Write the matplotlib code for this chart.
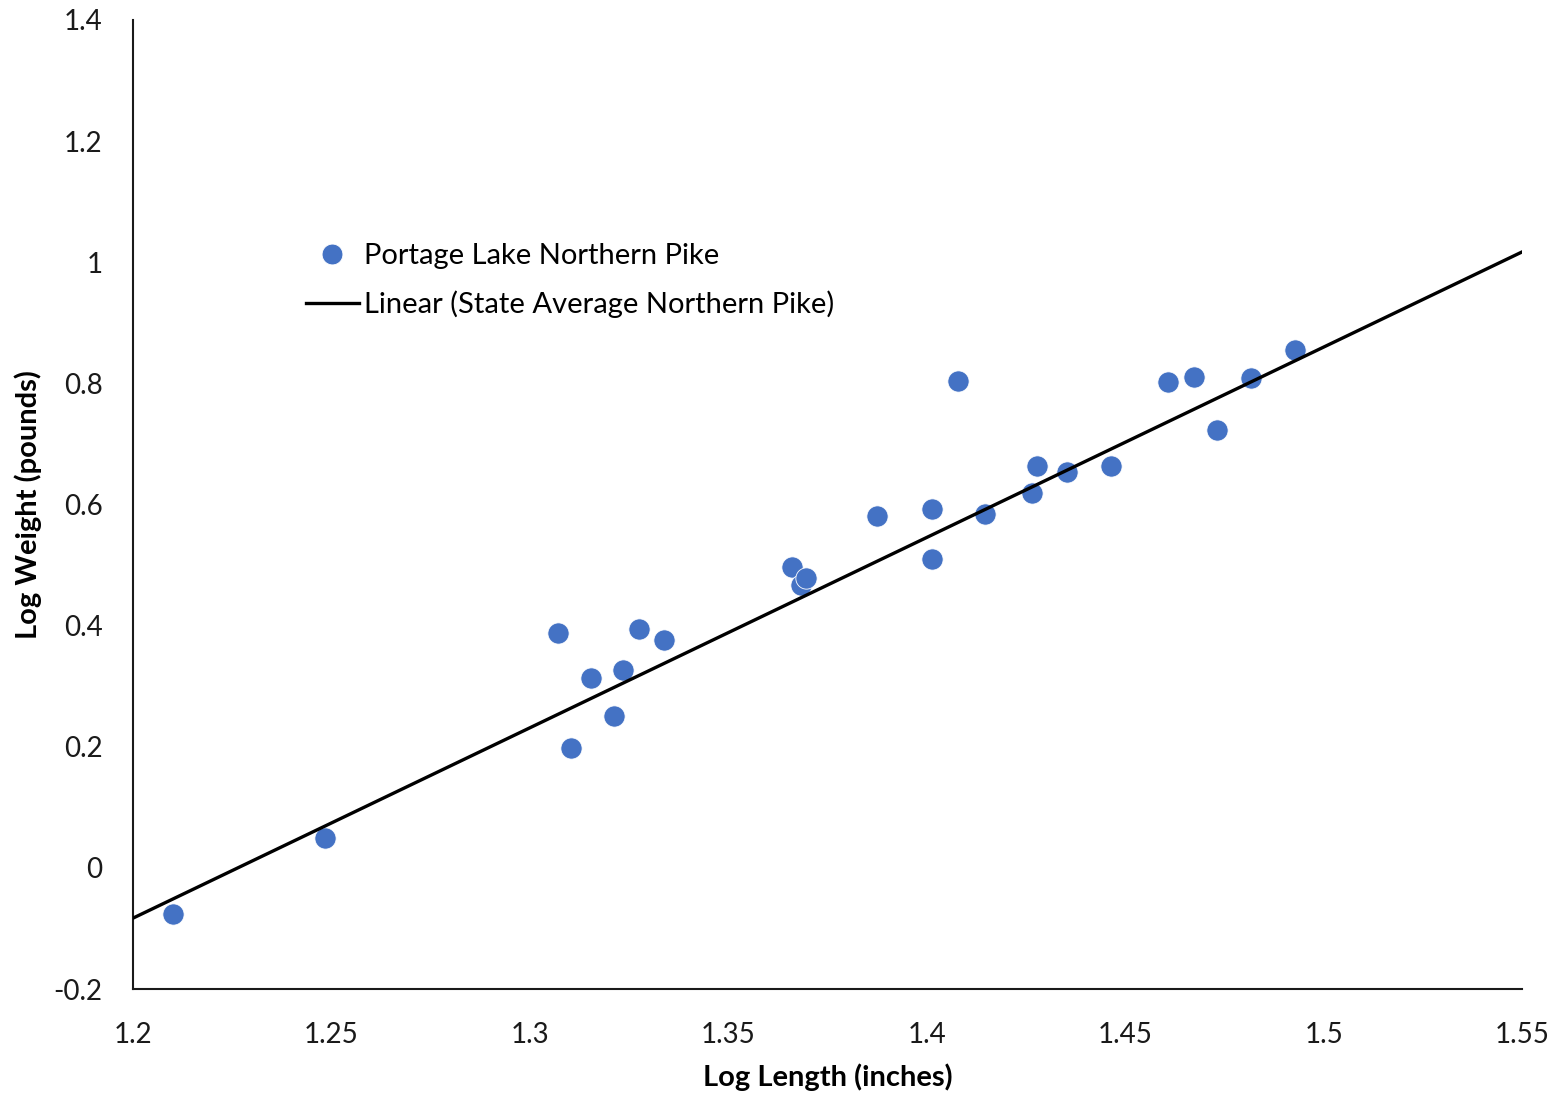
import matplotlib
matplotlib.use("Agg")
import matplotlib.pyplot as plt
import numpy as np
from matplotlib.lines import Line2D

plt.rcParams['font.family'] = ['Lato', 'DejaVu Sans']

log_length = [1.2101, 1.2484, 1.3071, 1.3104, 1.3154, 1.3212, 1.3235, 1.3275, 1.3338,
              1.3661, 1.3683, 1.3696, 1.3875, 1.4013, 1.4013, 1.4079, 1.4147, 1.4265,
              1.4278, 1.4354, 1.4464, 1.4608, 1.4673, 1.4731, 1.4817, 1.4928]
log_weight = [-0.076, 0.049, 0.388, 0.198, 0.314, 0.251, 0.327, 0.394, 0.376,
              0.497, 0.467, 0.479, 0.581, 0.593, 0.510, 0.804, 0.584, 0.619,
              0.664, 0.654, 0.664, 0.802, 0.811, 0.723, 0.809, 0.855]

trend_x = [1.2, 1.55]
trend_y = [-0.083, 1.017]

x_ticks = [1.2, 1.25, 1.3, 1.35, 1.4, 1.45, 1.5, 1.55]
x_tick_labels = ["1.2", "1.25", "1.3", "1.35", "1.4", "1.45", "1.5", "1.55"]
y_ticks = [-0.2, 0, 0.2, 0.4, 0.6, 0.8, 1, 1.2, 1.4]
y_tick_labels = ["-0.2", "0", "0.2", "0.4", "0.6", "0.8", "1", "1.2", "1.4"]

W, H = 1557, 1098
fig = plt.figure(figsize=(W/100, H/100), dpi=100)
ax = fig.add_axes([133/W, 1 - 989/H, (1522-133)/W, (989-20)/H])

ax.scatter(log_length, log_weight, s=235, color='#4472C4', edgecolors='white',
           linewidths=0.6, zorder=2, label='Portage Lake Northern Pike')
ax.plot(trend_x, trend_y, color='black', lw=2.4, zorder=3,
        label='Linear (State Average Northern Pike)')

ax.set_xlim(1.2, 1.55)
ax.set_ylim(-0.2, 1.4)
ax.set_xticks(x_ticks)
ax.set_xticklabels(x_tick_labels)
ax.set_yticks(y_ticks)
ax.set_yticklabels(y_tick_labels)
ax.tick_params(length=0, labelsize=20, colors='#1a1a1a', pad=0)
ax.tick_params(axis='x', pad=24)
ax.tick_params(axis='y', pad=22)

for s in ['top', 'right']:
    ax.spines[s].set_visible(False)
for s in ['left', 'bottom']:
    ax.spines[s].set_linewidth(1.5)
    ax.spines[s].set_color('#1a1a1a')

ax.set_xlabel('Log Length (inches)', fontsize=21, fontweight='bold', labelpad=11)
ax.set_ylabel('Log Weight (pounds)', fontsize=21, fontweight='bold', labelpad=8)

handles = [Line2D([], [], marker='o', ls='none', markersize=15, color='#4472C4',
                  markeredgecolor='white', markeredgewidth=0.6),
           Line2D([], [], color='black', lw=2.4)]
labels = ['Portage Lake Northern Pike', 'Linear (State Average Northern Pike)']
fig.legend(handles, labels, loc='upper left', bbox_to_anchor=(306/W, 1 - 243/H),
           frameon=False, fontsize=21, handlelength=1.8, handletextpad=0.18,
           labelspacing=0.75, borderpad=0, borderaxespad=0)

fig.savefig('out.png', dpi=100)
